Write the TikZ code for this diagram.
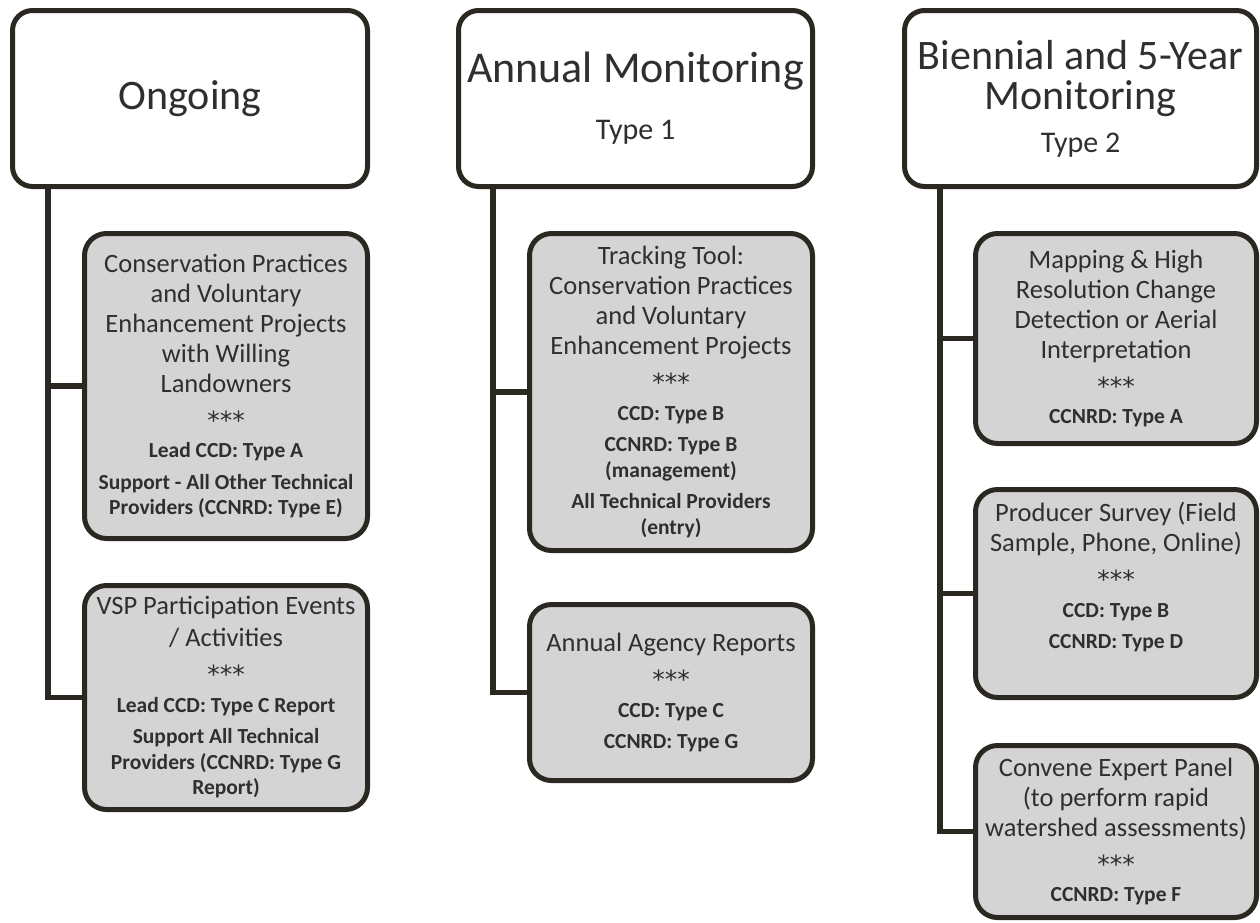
\documentclass[tikz,border=0pt]{standalone}
\usepackage{fontspec}
\setmainfont{Carlito}
\newfontfamily\starfont{DejaVu Sans}
\definecolor{edge}{HTML}{2B2822}
\definecolor{boxgray}{HTML}{D4D4D4}
\definecolor{txt}{HTML}{2F2F2F}
\newcommand{\Lrg}{\fontsize{26.5}{30}\selectfont\mdseries}
\newcommand{\Strs}{\par{\starfont\fontsize{25}{37}\selectfont ***\par}\vspace{-3pt}}
\newcommand{\Bld}{\par\vspace{6pt}\fontsize{21.5}{25.5}\selectfont\bfseries}
\tikzset{
  headbox/.style={draw=edge, line width=5pt, rounded corners=20pt, fill=white,
    minimum height=176pt, text width=350pt, align=flush center, inner sep=0pt,
    outer sep=0pt, text=txt, anchor=north west},
  childbox/.style={draw=edge, line width=5pt, rounded corners=22pt, fill=boxgray,
    text width=278pt, align=flush center, inner sep=0pt, outer sep=0pt, text=txt,
    anchor=north west},
  trunk/.style={draw=edge, line width=5.5pt}
}
\begin{document}
\begin{tikzpicture}[x=1pt, y=-1pt]
\useasboundingbox (0,0) rectangle (1260,922);

% headers
\node[headbox, minimum width=355pt] (H1) at (12.5,10.5)
  {\fontsize{42}{50}\selectfont Ongoing};
\node[headbox, minimum width=354pt] (H2) at (458.5,10.5)
  {{\fontsize{44}{50}\selectfont Annual Monitoring\par}{\fontsize{30}{57}\selectfont Type 1\par}};
\node[headbox, minimum width=352pt] (H3) at (904.5,10.5)
  {{\fontsize{42}{40}\selectfont Biennial and 5-Year\par Monitoring\par}{\fontsize{30}{43}\selectfont Type 2\par}};

% trunk tops
\coordinate (t1) at ([xshift=35.5pt]H1.south west);
\coordinate (t2) at ([xshift=34.5pt]H2.south west);
\coordinate (t3) at ([xshift=35.5pt]H3.south west);

% Ongoing children
\node[childbox, minimum width=283pt, minimum height=305pt] (O1) at (84.5,233.5)
  {\Lrg Conservation Practices\par and Voluntary\par Enhancement Projects\par with Willing\par Landowners\Strs
   \Bld Lead CCD: Type A\Bld Support - All Other Technical\par Providers (CCNRD: Type E)\par};
\node[childbox, minimum width=283pt, minimum height=224pt] (O2) at (84.5,585.5)
  {\fontsize{26.5}{32}\selectfont VSP Participation Events\par / Activities\Strs
   \Bld Lead CCD: Type C Report\Bld Support All Technical\par Providers (CCNRD: Type G\par Report)\par};

% Annual children
\node[childbox, minimum width=283pt, minimum height=317pt] (A1) at (529.5,233.5)
  {\Lrg Tracking Tool:\par Conservation Practices\par and Voluntary\par Enhancement Projects\Strs
   \Bld CCD: Type B\Bld CCNRD: Type B\par (management)\Bld All Technical Providers\par (entry)\par};
\node[childbox, minimum width=283pt, minimum height=176pt] (A2) at (529.5,604.5)
  {\Lrg Annual Agency Reports\Strs\Bld CCD: Type C\Bld CCNRD: Type G\par};

% Biennial children
\node[childbox, minimum width=281pt, minimum height=210pt] (B1) at (975.5,233.5)
  {\Lrg Mapping \& High\par Resolution Change\par Detection or Aerial\par Interpretation\Strs
   \Bld CCNRD: Type A\par};
\node[childbox, minimum width=281pt, minimum height=208pt] (B2) at (975.5,489.5)
  {\Lrg Producer Survey (Field\par Sample, Phone, Online)\Strs
   \Bld CCD: Type B\Bld CCNRD: Type D\par\vspace{10pt}\mbox{}\par};
\node[childbox, minimum width=281pt, minimum height=172pt] (B3) at (975.5,745.5)
  {\Lrg Convene Expert Panel\par (to perform rapid\par watershed assessments)\Strs
   \Bld CCNRD: Type F\par};

% connectors
\draw[trunk] (t1) |- (O1.west);
\draw[trunk] (t1) |- (O2.west);
\draw[trunk] (t2) |- (A1.west);
\draw[trunk] (t2) |- (A2.west);
\draw[trunk] (t3) |- (B1.west);
\draw[trunk] (t3) |- (B2.west);
\draw[trunk] (t3) |- (B3.west);
\end{tikzpicture}
\end{document}
